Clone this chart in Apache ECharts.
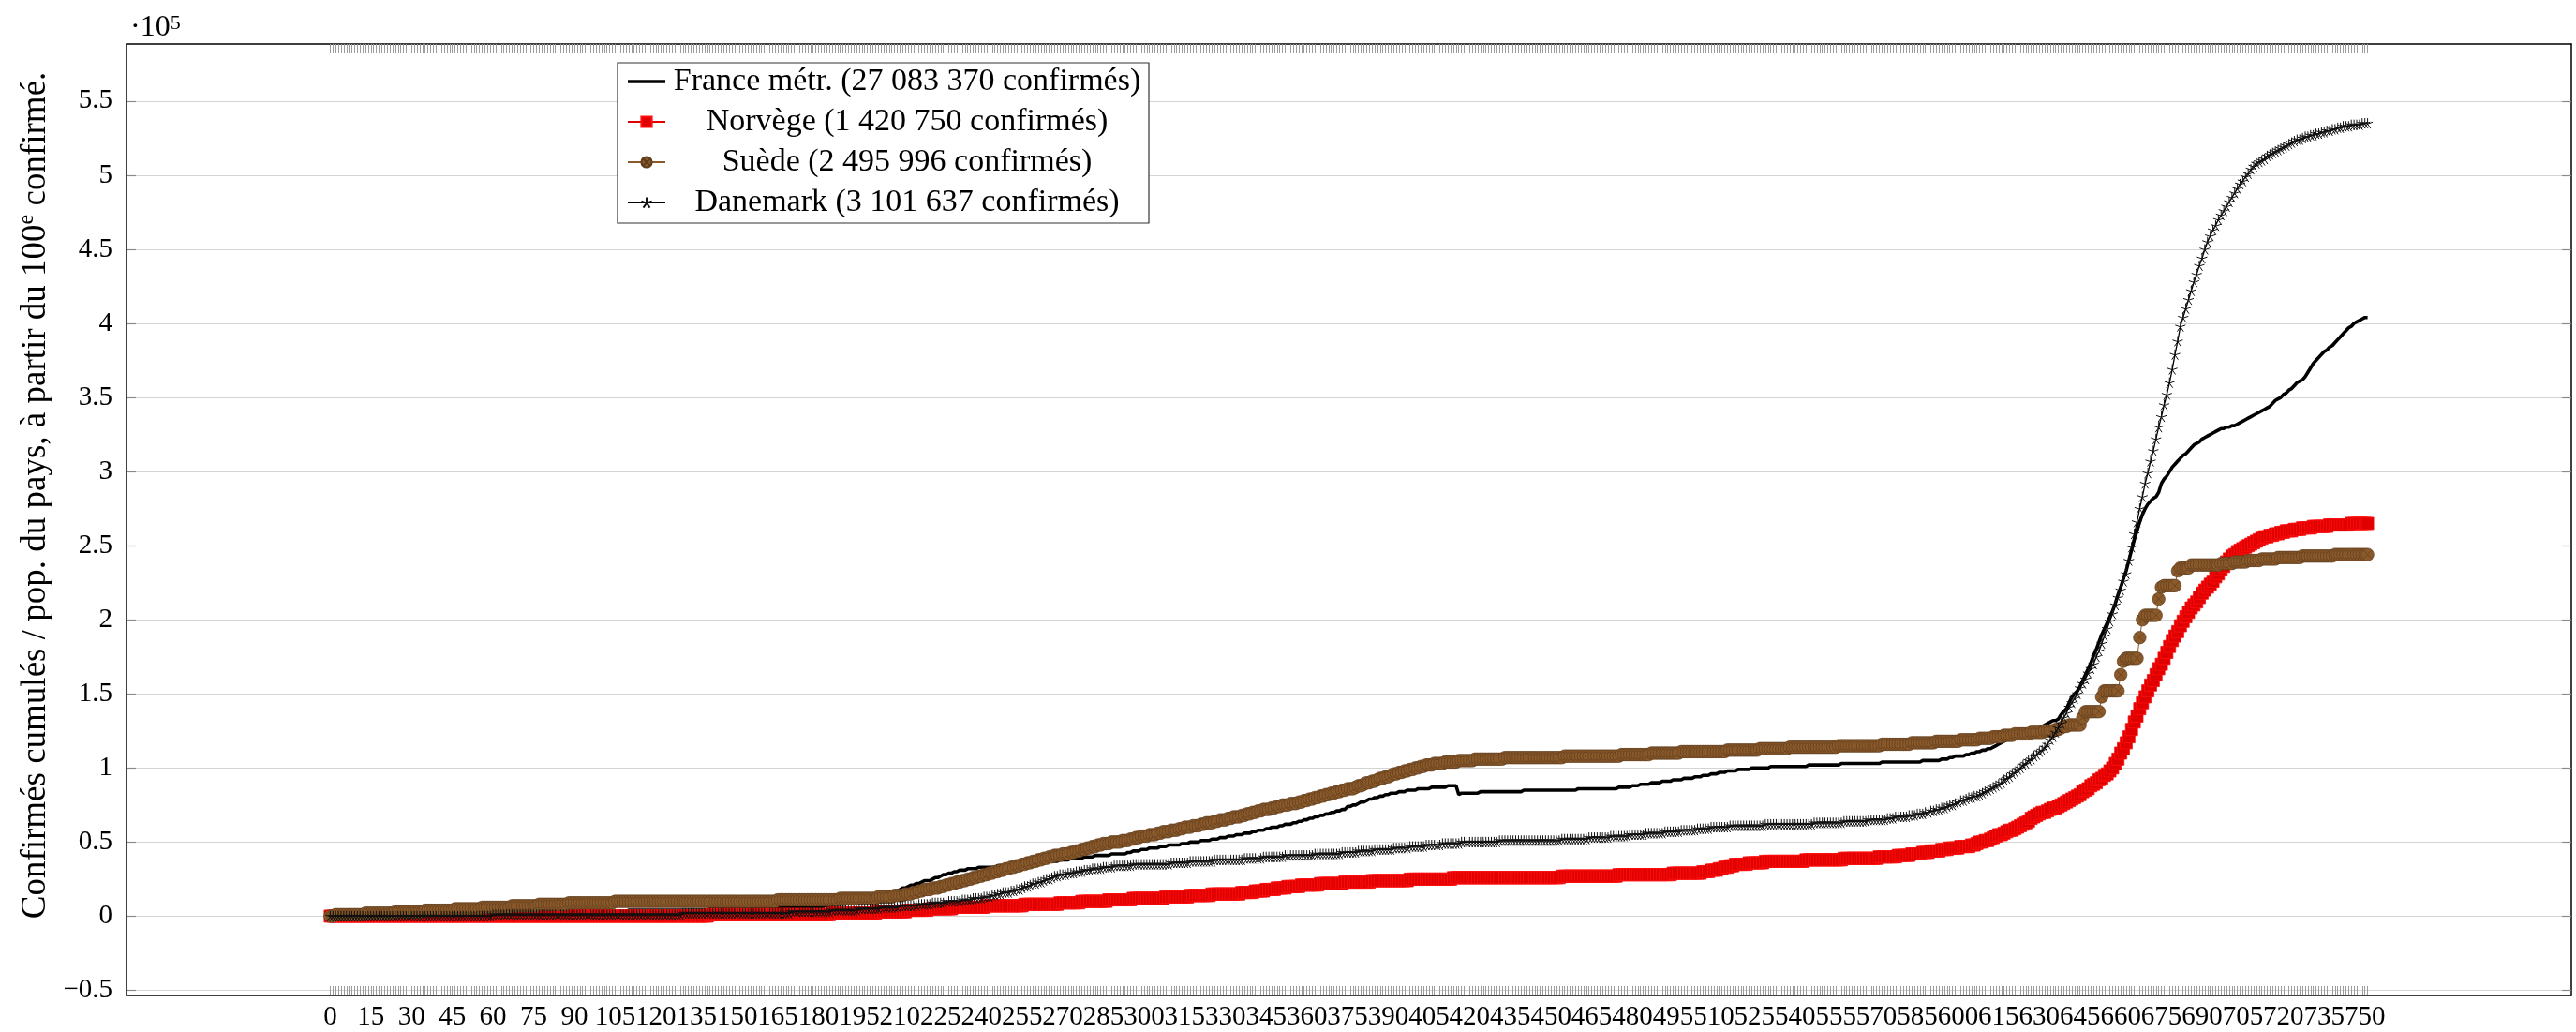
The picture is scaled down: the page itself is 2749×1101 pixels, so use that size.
<!DOCTYPE html>
<html><head><meta charset="utf-8">
<script src="https://cdn.jsdelivr.net/npm/echarts@6/dist/echarts.min.js"></script>
<style>html,body{margin:0;padding:0;background:#fff}#c{width:2749px;height:1101px}</style>
</head><body><div id="c"></div>
<script>
// Cumulative confirmed per population, in thousands, one value per day since the 100th case
const seriesNames = ['France métr. (27 083 370 confirmés)', 'Norvège (1 420 750 confirmés)', 'Suède (2 495 996 confirmés)', 'Danemark (3 101 637 confirmés)'];

const franceValues = [
0,0,0,0,0,0,0,0,0,0, 0,0,0,0,0,0,0,0,0,0, 1,1,1,1,1,1,1,1,1,1, 1,1,1,1,1,1,1,1,1,1, 1,1,1,1,1,1,1,1,1,1,
2,2,2,2,2,2,2,2,2,2, 2,2,2,2,2,2,2,2,2,2, 2,2,2,2,2,2,2,2,2,2, 3,3,3,3,3,3,3,3,3,3, 3,3,3,3,3,3,3,3,3,3,
3,3,3,3,3,3,3,3,3,3, 4,4,4,4,4,4,4,4,4,4, 4,4,4,4,4,4,4,4,4,4, 4,4,4,4,4,4,4,4,4,4, 5,5,5,5,5,5,5,5,5,5,
5,5,5,5,5,5,5,5,5,5, 5,5,5,5,5,6,6,6,6,6, 6,6,6,6,6,6,6,6,6,6, 6,6,7,7,7,7,7,8,8,8, 8,9,9,9,10,10,10,11,11,12,
12,12,13,13,14,15,15,16,17,17, 18,19,19,20,21,21,22,22,23,24, 24,24,25,26,26,27,28,28,29,29, 30,30,31,31,31,32,32,32,32,33, 33,33,33,33,33,33,34,34,34,34,
34,34,35,35,35,35,35,35,36,36, 36,36,36,36,37,37,37,37,37,38, 38,38,38,39,39,39,39,39,40,40, 40,40,41,41,41,41,41,41,42,42, 42,42,42,42,43,43,44,44,44,45,
45,45,46,46,46,46,47,47,47,48, 48,48,48,48,49,49,49,50,50,50, 50,51,51,51,51,52,52,52,53,53, 53,54,54,54,55,55,55,56,56,56, 57,57,58,58,58,59,59,60,60,60,
61,61,62,62,62,63,63,64,64,65, 65,66,66,67,67,68,68,69,69,70, 70,71,71,72,72,74,74,75,75,76, 77,77,78,79,79,80,80,81,81,82, 82,83,83,83,84,84,84,85,85,85,
85,86,86,86,86,86,87,87,87,87, 87,87,88,88,88,88,82,83,83,83, 83,83,83,83,84,84,84,84,84,84, 84,84,84,84,84,84,84,84,84,84, 85,85,85,85,85,85,85,85,85,85,
85,85,85,85,85,85,85,85,85,85, 86,86,86,86,86,86,86,86,86,86, 86,86,86,86,86,87,87,87,87,87, 88,88,88,89,89,89,89,90,90,90, 90,91,91,91,91,92,92,92,92,93,
93,93,93,94,94,94,95,95,95,96, 96,96,97,97,97,98,98,98,98,99, 99,99,99,99,100,100,100,100,100,100, 100,101,101,101,101,101,101,101,101,101, 101,101,101,101,101,102,102,102,102,102,
102,102,102,102,102,102,102,103,103,103, 103,103,103,103,103,103,103,103,103,103, 103,103,104,104,104,104,104,104,104,104, 104,104,104,104,104,104,104,105,105,105, 105,105,105,105,106,106,106,107,107,108,
108,108,108,109,109,110,110,111,111,112, 112,113,113,114,115,116,117,118,119,119, 120,120,121,121,122,122,123,124,125,126, 127,128,129,130,131,132,132,133,136,138, 140,144,148,150,152,155,159,163,167,171,
176,180,185,190,194,198,202,206,211,217, 222,228,233,240,247,254,260,266,271,275, 278,280,282,283,286,292,295,297,300,303, 305,307,309,311,312,314,316,318,319,320, 322,323,324,325,326,327,328,329,329,330,
330,331,331,332,333,334,335,336,337,338, 339,340,341,342,343,344,346,348,349,350, 352,353,355,356,358,360,361,362,364,367, 370,373,375,377,379,381,382,384,385,387, 389,391,393,395,397,398,400,401,402,403,
404,404];

const norwayValues = [
0,0,0,0,0,0,0,0,0,0, 0,0,0,0,0,0,0,0,0,0, 0,0,0,0,0,0,0,0,0,0, 0,0,0,0,0,0,0,0,0,0, 0,0,0,0,0,0,0,0,0,0,
0,0,0,0,0,0,0,0,0,0, 0,0,0,0,0,0,0,0,0,0, 0,0,0,0,0,0,0,0,0,0, 0,0,0,0,0,0,0,0,0,0, 0,0,0,0,0,0,0,0,0,0,
0,0,0,0,0,0,0,0,0,0, 0,0,0,0,0,0,0,0,0,0, 0,0,0,0,0,0,0,0,0,0, 0,0,0,0,0,0,0,0,0,0, 1,1,1,1,1,1,1,1,1,1,
1,1,1,1,1,1,1,1,1,1, 1,1,1,1,1,1,1,1,1,1, 1,1,1,1,1,1,1,1,1,1, 1,1,1,1,1,2,2,2,2,2, 2,2,2,2,2,2,2,2,2,2,
2,2,3,3,3,3,3,3,3,3, 3,3,3,4,4,4,4,4,4,4, 4,5,5,5,5,5,5,5,5,5, 6,6,6,6,6,6,6,6,6,6, 6,6,7,7,7,7,7,7,7,7,
7,7,7,7,7,7,8,8,8,8, 8,8,8,8,8,8,8,8,8,9, 9,9,9,9,9,9,9,10,10,10, 10,10,10,10,10,10,10,11,11,11, 11,11,11,11,11,11,12,12,12,12,
12,12,12,12,12,12,12,12,13,13, 13,13,13,13,13,13,13,14,14,14, 14,14,14,14,14,15,15,15,15,15, 15,15,15,15,15,15,16,16,16,16, 16,17,17,17,17,18,18,18,18,19,
19,19,19,20,20,20,20,20,21,21, 21,21,21,21,21,22,22,22,22,22, 22,22,22,22,23,23,23,23,23,23, 23,23,23,23,24,24,24,24,24,24, 24,24,24,24,24,24,24,24,25,25,
25,25,25,25,25,25,25,25,25,25, 25,25,25,25,26,26,26,26,26,26, 26,26,26,26,26,26,26,26,26,26, 26,26,26,26,26,26,26,26,26,26, 26,26,26,26,26,26,26,26,26,26,
26,26,26,26,27,27,27,27,27,27, 27,27,27,27,27,27,27,27,27,27, 27,27,27,27,27,28,28,28,28,28, 28,28,28,28,28,28,28,28,28,28, 28,28,28,28,28,29,29,29,29,29,
29,29,29,29,29,29,30,30,30,31, 31,31,32,32,33,33,34,34,35,35, 35,35,35,36,36,36,36,36,36,37, 37,37,37,37,37,37,37,37,37,37, 37,37,37,37,38,38,38,38,38,38,
38,38,38,38,38,38,38,38,39,39, 39,39,39,39,39,39,39,39,39,39, 39,40,40,40,40,40,40,40,41,41, 41,41,41,42,42,42,42,43,43,43, 44,44,44,44,45,45,45,46,46,46,
46,47,47,47,47,48,48,49,50,50, 51,51,52,53,54,55,55,56,57,58, 58,59,60,61,62,63,64,66,67,68, 69,70,70,71,72,73,73,74,75,76, 77,78,79,80,81,82,84,85,86,88,
89,90,92,93,95,96,98,100,103,106, 110,113,117,121,126,131,135,140,144,148, 152,156,159,163,167,170,174,178,182,186, 189,192,196,199,202,205,208,210,212,215, 218,220,222,224,226,229,231,234,236,239,
241,243,244,246,247,248,249,250,251,252, 253,254,255,256,256,257,257,258,258,259, 259,260,260,260,261,261,261,262,262,262, 262,263,263,263,263,263,263,264,264,264, 264,264,264,264,264,265,265,265,265,265,
265,265];

const swedenValues = [
0,0,1,1,1,1,1,1,1,1, 1,1,1,2,2,2,2,2,2,2, 2,2,2,2,3,3,3,3,3,3, 3,3,3,3,3,4,4,4,4,4, 4,4,4,4,4,4,5,5,5,5,
5,5,5,5,5,5,6,6,6,6, 6,6,6,6,6,6,6,7,7,7, 7,7,7,7,7,7,7,8,8,8, 8,8,8,8,8,8,8,8,9,9, 9,9,9,9,9,9,9,9,9,9,
9,9,9,9,9,10,10,10,10,10, 10,10,10,10,10,10,10,10,10,10, 10,10,10,10,10,10,10,10,10,10, 10,10,10,10,10,10,10,10,10,10, 10,10,10,10,10,10,10,10,10,10,
10,10,10,10,10,10,10,10,10,10, 10,10,10,10,10,11,11,11,11,11, 11,11,11,11,11,11,11,11,11,11, 11,11,11,11,11,11,11,11,12,12, 12,12,12,12,12,12,12,12,12,12,
12,12,13,13,13,13,13,13,14,14, 14,14,15,15,15,16,16,17,17,18, 18,18,19,19,19,20,20,21,21,22, 22,23,23,24,24,25,25,26,26,27, 27,28,28,29,29,30,30,31,31,32,
32,33,33,34,34,35,35,36,36,37, 37,38,38,39,39,40,40,41,41,41, 42,42,42,43,43,44,44,45,45,46, 46,47,47,48,48,49,49,49,50,50, 50,50,51,51,51,52,52,53,53,54,
54,54,55,55,55,56,56,57,57,57, 58,58,58,59,59,60,60,60,61,61, 61,62,62,63,63,63,64,64,65,65, 65,66,66,67,67,67,68,68,69,69, 70,70,71,71,72,72,72,73,73,74,
74,75,75,75,76,76,76,77,77,78, 78,79,79,80,80,81,81,82,82,83, 83,84,84,85,85,86,86,86,87,88, 88,89,90,90,91,91,92,93,93,94, 94,95,96,96,97,97,98,98,99,99,
100,100,101,101,102,102,102,103,103,103, 103,104,104,104,104,104,105,105,105,105, 105,105,106,106,106,106,106,106,106,106, 106,106,106,107,107,107,107,107,107,107, 107,107,107,107,107,107,107,107,107,107,
107,107,107,107,107,108,108,108,108,108, 108,108,108,108,108,108,108,108,108,108, 108,108,108,108,108,108,109,109,109,109, 109,109,109,109,109,109,109,110,110,110, 110,110,110,110,110,110,110,110,111,111,
111,111,111,111,111,111,111,111,111,111, 111,111,111,111,111,112,112,112,112,112, 112,112,112,112,112,112,112,113,113,113, 113,113,113,113,113,113,113,113,114,114, 114,114,114,114,114,114,114,114,114,114,
114,114,114,114,114,114,115,115,115,115, 115,115,115,115,115,115,115,115,115,115, 115,115,116,116,116,116,116,116,116,116, 116,116,116,117,117,117,117,117,117,117, 117,117,118,118,118,118,118,118,118,118,
118,119,119,119,119,119,119,119,120,120, 120,120,120,121,121,121,121,122,122,122, 122,123,123,123,123,123,123,124,124,124, 124,124,125,125,125,125,126,126,127,128, 128,129,129,129,129,129,134,138,138,138,
138,138,138,148,152,152,152,152,152,152, 163,172,174,174,174,174,174,188,200,203, 203,203,203,203,214,222,223,223,223,223, 223,233,235,235,235,235,237,237,237,237, 237,237,237,237,237,237,237,238,238,238,
238,238,239,239,239,239,239,240,240,240, 240,240,241,241,241,241,241,241,242,242, 242,242,242,242,242,242,242,243,243,243, 243,243,243,243,243,243,243,243,243,244, 244,244,244,244,244,244,244,244,244,244,
244,244];

const denmarkValues = [
0,0,0,0,0,0,0,0,0,0, 0,0,0,0,0,0,0,0,0,0, 0,0,0,0,0,0,0,0,0,0, 0,0,0,0,0,0,0,0,0,0, 0,0,0,0,0,0,0,0,0,0,
0,0,0,0,0,0,0,0,0,0, 1,1,1,1,1,1,1,1,1,1, 1,1,1,1,1,1,1,1,1,1, 1,1,1,1,1,1,1,1,1,1, 1,1,1,1,1,1,1,1,1,1,
1,1,1,1,1,1,1,1,1,1, 1,1,1,1,1,1,1,1,1,1, 1,1,1,1,1,1,1,1,1,1, 2,2,2,2,2,2,2,2,2,2, 2,2,2,2,2,2,2,2,2,2,
2,2,2,2,2,2,2,2,2,2, 2,2,2,2,2,2,2,2,2,2, 3,3,3,3,3,3,3,3,3,3, 3,3,3,3,3,4,4,4,4,4, 4,4,4,4,4,5,5,5,5,5,
5,5,5,6,6,6,6,6,6,6, 7,7,7,7,7,7,7,8,8,8, 8,8,9,9,9,9,9,10,10,10, 10,10,10,11,11,11,11,12,12,12, 12,13,13,13,14,14,15,15,16,16,
16,17,17,18,18,19,20,20,21,22, 22,23,23,24,25,25,26,27,27,28, 28,28,29,29,29,30,30,30,31,31, 31,32,32,32,32,33,33,33,33,34, 34,34,34,34,34,34,35,35,35,35,
35,35,35,35,35,35,35,35,35,35, 36,36,36,36,36,36,36,37,37,37, 37,37,37,37,37,37,38,38,38,38, 38,38,38,38,38,38,38,39,39,39, 39,39,39,39,40,40,40,40,40,40,
40,40,41,41,41,41,41,41,41,41, 41,41,41,42,42,42,42,42,42,42, 42,42,42,43,43,43,43,43,43,44, 44,44,44,44,44,45,45,45,45,45, 45,45,46,46,46,46,46,46,47,47,
47,47,47,47,48,48,48,48,48,48, 49,49,49,49,49,49,49,50,50,50, 50,50,50,50,50,50,50,50,50,50, 50,51,51,51,51,51,51,51,51,51, 51,51,51,51,51,51,51,51,51,51,
51,51,51,51,52,52,52,52,52,52, 52,52,52,52,53,53,53,53,53,53, 53,53,54,54,54,54,54,54,54,55, 55,55,55,55,55,56,56,56,56,56, 56,56,57,57,57,57,57,57,58,58,
58,58,58,58,59,59,59,59,59,60, 60,60,60,60,60,60,61,61,61,61, 61,61,61,61,61,61,61,61,61,62, 62,62,62,62,62,62,62,62,62,62, 62,62,62,62,62,62,62,63,63,63,
63,63,63,63,63,63,63,63,64,64, 64,64,64,64,64,64,64,65,65,65, 65,65,65,65,66,66,66,67,67,67, 67,67,68,68,68,69,69,69,70,70, 71,71,72,72,73,73,74,75,75,76,
77,78,78,79,80,80,81,81,82,83, 84,85,86,87,88,89,90,92,93,94, 96,97,99,100,102,103,105,106,108,109, 111,112,114,116,119,121,124,127,130,134, 137,141,144,147,150,154,157,160,164,167,
170,175,179,184,189,194,199,204,210,215, 220,226,231,240,249,258,266,275,283,292, 299,307,314,322,330,337,345,352,360,369, 379,388,398,404,410,416,422,428,433,439, 444,450,455,459,463,466,470,473,476,479,
482,485,488,491,494,496,499,501,504,506, 508,509,510,511,513,514,515,516,517,518, 519,520,521,522,523,524,524,525,526,526, 527,527,528,528,529,529,530,530,531,531, 532,532,533,533,533,534,534,534,534,535,
535,535];

// tick labels
const xLabelValues = [0,15,30,45,60,75,90,105,120,135,150,165,180,195,210,225,240,255,270,285,300,315,330,345,360,375,390,405,420,435,450,465,480,495,510,525,540,555,570,585,600,615,630,645,660,675,690,705,720,735,750];
const yTickValues = [-50,0,50,100,150,200,250,300,350,400,450,500,550];

[norwayValues, swedenValues, denmarkValues].forEach(function (a, k) {
  if (a.length !== franceValues.length) throw new Error('length mismatch ' + k + ': ' + a.length + ' vs ' + franceValues.length);
});

const FONT = 'Liberation Serif';
const BROWN = '#8b5a2b';
const days = franceValues.map(function (v, i) { return i; });
const lastDay = days[days.length - 1];
const allVals = [].concat(franceValues, norwayValues, swedenValues, denmarkValues);
const vMax = Math.max.apply(null, allVals), vMin = Math.min.apply(null, allVals);
const vRange = vMax - vMin;
const xMin = -0.1 * lastDay, xMax = 1.1 * lastDay;
const yMin = vMin - 0.1 * vRange, yMax = vMax + 0.1 * vRange;
function toPairs(arr) { return arr.map(function (v, i) { return [days[i], v]; }); }
function fmtY(v) { return String(Math.round(v) / 100).replace('-', '\u2212'); }

const circleX = 'path://M10,0A10,10,0,1,1,-10,0A10,10,0,1,1,10,0ZM-7,-7L7,7M7,-7L-7,7';
const star = 'path://M0,0L0,-10M0,0L9.51,-3.09M0,0L5.88,8.09M0,0L-5.88,8.09M0,0L-9.51,-3.09';

const chart = echarts.init(document.getElementById('c'));
const tickGray = '#9c9c9c';
const TICK_FS = 29;
function xAxisDef(pos, labels) {
  return {
    type: 'value', min: xMin, max: xMax, position: pos,
    axisLine: { show: true, onZero: false, lineStyle: { color: '#000', width: 1.5 } },
    axisTick: { show: true, inside: true, length: 10, customValues: days, lineStyle: { color: tickGray, width: 1 } },
    axisLabel: labels ? { show: true, customValues: xLabelValues, margin: 9, fontFamily: FONT, fontSize: TICK_FS, color: '#000' } : { show: false },
    splitLine: { show: false }
  };
}
function yAxisDef(pos, labels) {
  const d = {
    type: 'value', min: yMin, max: yMax, position: pos, minInterval: 50, maxInterval: 50,
    axisLine: { show: true, onZero: false, lineStyle: { color: '#000', width: 1.5 } },
    axisTick: { show: true, inside: true, length: 10, customValues: yTickValues, lineStyle: { color: '#8a8a8a', width: 1.2 } },
    axisLabel: labels ? { show: true, customValues: yTickValues, formatter: fmtY, margin: 15, fontFamily: FONT, fontSize: TICK_FS, color: '#000' } : { show: false },
    splitLine: { show: labels, lineStyle: { color: '#d4d4d4', width: 1.2 } }
  };
  if (labels) {
    d.name = '{a|Confirmés cumulés / pop. du pays, à partir du 100}{s|e}{a| confirmé.}';
    d.nameLocation = 'middle';
    d.nameGap = 74;
    d.nameTextStyle = {
      fontFamily: FONT, fontSize: 37, color: '#000', padding: [0, 0, 0, 52],
      rich: {
        a: { fontFamily: FONT, fontSize: 37, lineHeight: 42, color: '#000' },
        s: { fontFamily: FONT, fontSize: 24, lineHeight: 32, verticalAlign: 'top', color: '#000' }
      }
    };
  }
  return d;
}

chart.setOption({
  animation: false,
  backgroundColor: '#fff',
  title: {
    text: '·10{s|5}', left: 134, top: 9,
    textStyle: {
      fontFamily: FONT, fontSize: 32, fontWeight: 'normal', color: '#000',
      rich: { s: { fontFamily: FONT, fontSize: 22, verticalAlign: 'top', color: '#000' } }
    }
  },
  grid: { left: 135, right: 5, top: 47, bottom: 39, containLabel: false, outerBoundsMode: 'none' },
  legend: {
    orient: 'vertical', left: 659, top: 67,
    padding: [3, 5, 5, 10], itemGap: 9, itemWidth: 40, itemHeight: 14,
    backgroundColor: '#fff', borderColor: '#333', borderWidth: 1.2,
    data: [{ name: seriesNames[0], icon: 'path://M0,0H40V3.6H0Z' }, seriesNames[1], seriesNames[2], seriesNames[3]],
    formatter: function (n) { return '{t|' + n + '}'; },
    textStyle: {
      fontFamily: FONT, fontSize: 34, color: '#000',
      rich: { t: { fontFamily: FONT, fontSize: 34, width: 506, align: 'center', lineHeight: 36, color: '#000' } }
    }
  },
  xAxis: [xAxisDef('bottom', true), xAxisDef('top', false)],
  yAxis: [yAxisDef('left', true), yAxisDef('right', false)],
  series: [
    {
      name: seriesNames[0], type: 'line', data: toPairs(franceValues), symbol: 'none',
      lineStyle: { color: '#000', width: 3.6 }, itemStyle: { color: '#000' }, z: 2
    },
    {
      name: seriesNames[1], type: 'line', data: toPairs(norwayValues), symbol: 'rect', symbolSize: 13, showAllSymbol: true,
      lineStyle: { color: '#e00000', width: 1 }, itemStyle: { color: '#e00000', borderColor: '#ff1010', borderWidth: 0.8 }, z: 3
    },
    {
      name: seriesNames[2], type: 'line', data: toPairs(swedenValues), symbol: circleX, symbolSize: 13.5, showAllSymbol: true,
      lineStyle: { color: BROWN, width: 1 }, itemStyle: { color: BROWN, borderColor: '#5e3c1c', borderWidth: 0.7 }, z: 4
    },
    {
      name: seriesNames[3], type: 'line', data: toPairs(denmarkValues), symbol: star, symbolSize: 11, showAllSymbol: true,
      lineStyle: { color: '#000', width: 1.3 }, itemStyle: { color: 'rgba(0,0,0,0)', borderColor: '#111', borderWidth: 1 }, z: 5
    }
  ]
});
</script>
</body></html>
